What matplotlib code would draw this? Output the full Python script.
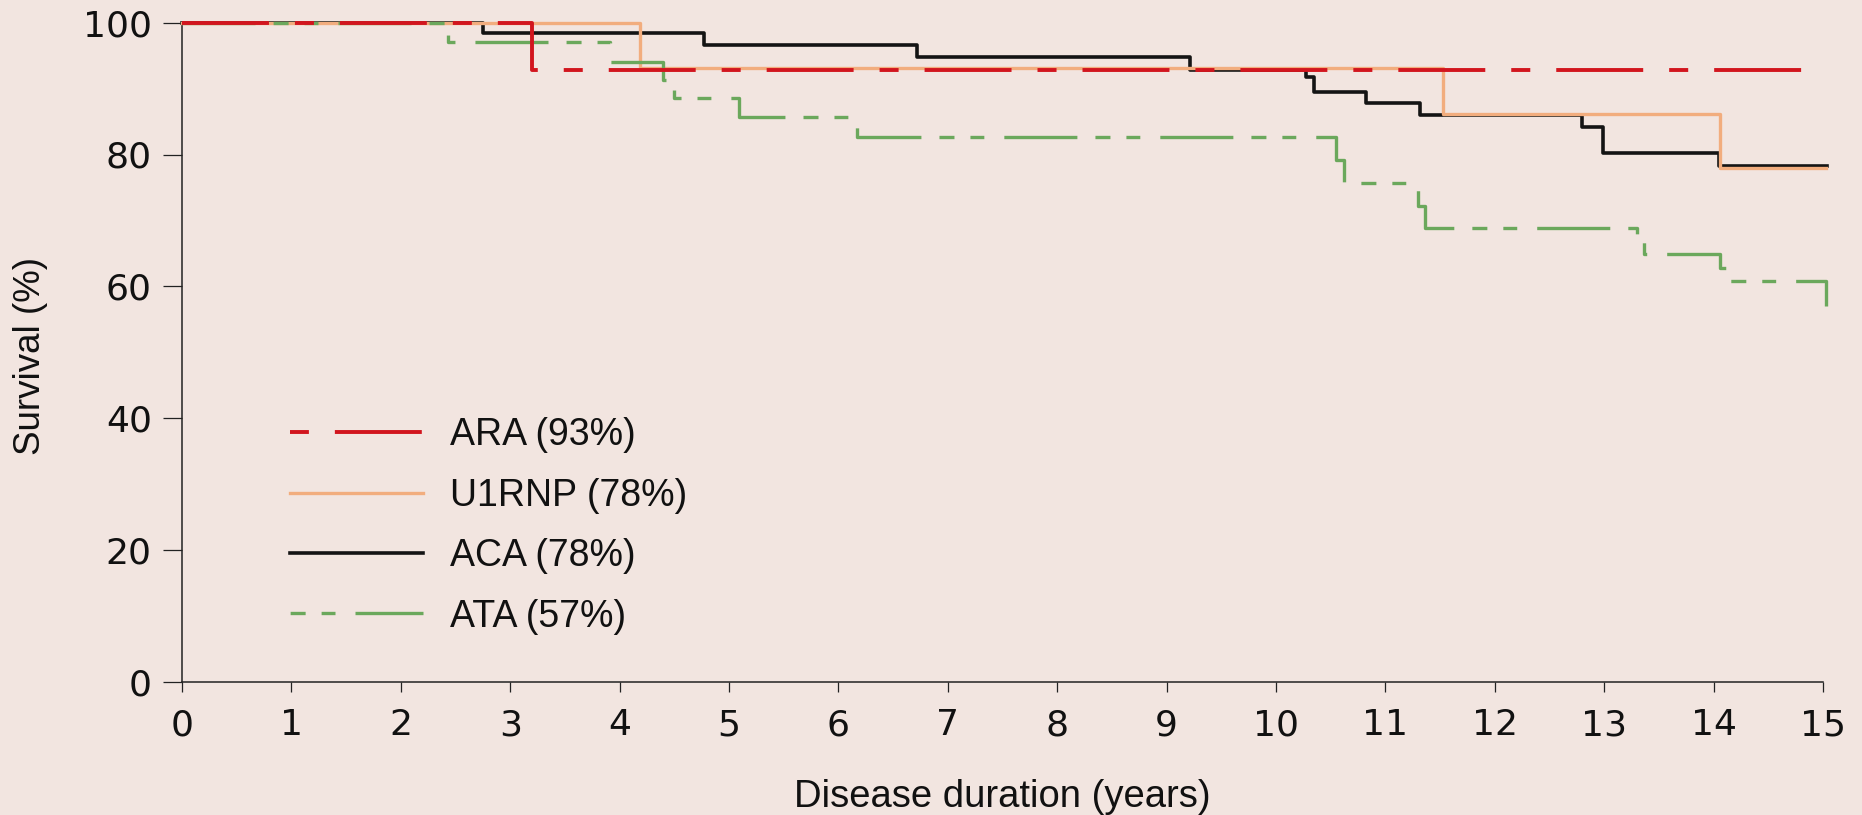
import matplotlib
matplotlib.use("Agg")
import matplotlib.pyplot as plt

# Kaplan-Meier style survival (years, % surviving)
ara_t = [0, 3.20, 15.03]
ara_s = [100, 92.8, 92.8]

u1rnp_t = [0, 4.19, 11.53, 14.06, 15.03]
u1rnp_s = [100, 93.2, 86.2, 77.9, 77.9]

aca_t = [0, 2.75, 4.77, 6.72, 9.21, 10.27, 10.35, 10.82, 11.32, 12.80, 12.99, 14.05, 15.04]
aca_s = [100, 98.4, 96.6, 94.8, 92.8, 91.8, 89.5, 87.8, 86.0, 84.2, 80.2, 78.2, 78.2]

ata_t = [0, 2.43, 3.91, 4.40, 4.50, 5.09, 6.17, 10.55, 10.62, 11.30, 11.36,
         13.30, 13.36, 14.06, 14.11, 15.03]
ata_s = [100, 97.0, 94.1, 91.3, 88.5, 85.7, 82.7, 79.2, 75.7, 72.2, 68.8,
         66.9, 64.9, 62.8, 60.8, 57.0]

labels = ["ARA (93%)", "U1RNP (78%)", "ACA (78%)", "ATA (57%)"]
x_ticks = list(range(0, 16))
y_ticks = [0, 20, 40, 60, 80, 100]

bg = "#f2e5e0"
plt.rcParams["lines.scale_dashes"] = False

ara_dash = [62.6, 18.7, 13.7, 18.7]
ata_dash = [52.6, 13, 10.8, 11.5, 10, 14.4]

fig = plt.figure(figsize=(18.62, 8.15), dpi=100, facecolor=bg)
ax = fig.add_axes([182 / 1862, 1 - 681.7 / 815, (1823 - 182) / 1862, (681.7 - 22.7) / 815])
ax.set_facecolor(bg)

l_aca, = ax.step(aca_t, aca_s, where="post", color="#141414", lw=2.6, clip_on=False, zorder=2)
l_u1, = ax.step(u1rnp_t, u1rnp_s, where="post", color="#f2ad7e", lw=2.4, clip_on=False, zorder=3)
l_ata, = ax.step(ata_t, ata_s, where="post", color="#6ba85c", lw=2.4, clip_on=False, zorder=4,
                 dashes=ata_dash)
l_ara, = ax.step(ara_t, ara_s, where="post", color="#d2151e", lw=2.8, clip_on=False, zorder=5,
                 dashes=ara_dash)

ax.set_xlim(0, 15)
ax.set_ylim(0, 100)
ax.set_xticks(x_ticks)
ax.set_yticks(y_ticks)
for s in ["top", "right"]:
    ax.spines[s].set_visible(False)
for s in ["left", "bottom"]:
    ax.spines[s].set_linewidth(1.1)
    ax.spines[s].set_color("#222222")

ax.tick_params(axis="x", length=7.2, width=0.9, pad=12, labelsize=26, colors="#222222",
               labelcolor="#111111")
ax.tick_params(axis="y", length=13.7, width=0.9, pad=8, labelsize=26, colors="#222222",
               labelcolor="#111111")
for t in ax.get_xticklabels() + ax.get_yticklabels():
    t.set_family("DejaVu Sans")

txt = dict(family="Liberation Sans", color="#111111")
fig.text(1002 / 1862, 1 - 807 / 815, "Disease duration (years)", ha="center", va="baseline",
         fontsize=27.5, **txt)
fig.text(31 / 1862, 1 - 356 / 815, "Survival (%)", ha="center", va="center", rotation=90,
         fontsize=26.5, **txt)

leg = ax.legend([l_ara, l_u1, l_aca, l_ata], labels, loc="center left",
                bbox_to_anchor=(290 / 1862, 1 - 526 / 815), bbox_transform=fig.transFigure,
                frameon=False, borderpad=0, borderaxespad=0, handlelength=3.55,
                handletextpad=0.72, labelspacing=0.65,
                prop={"family": "Liberation Sans", "size": 27})
for t in leg.get_texts():
    t.set_color("#111111")
# legend handles start on the short dash, as in the original
hl = leg.get_lines()
hl[0].set_linestyle((81.4, ara_dash))
hl[3].set_linestyle((65.5, ata_dash))

fig.savefig("out.png", dpi=100, facecolor=bg)
